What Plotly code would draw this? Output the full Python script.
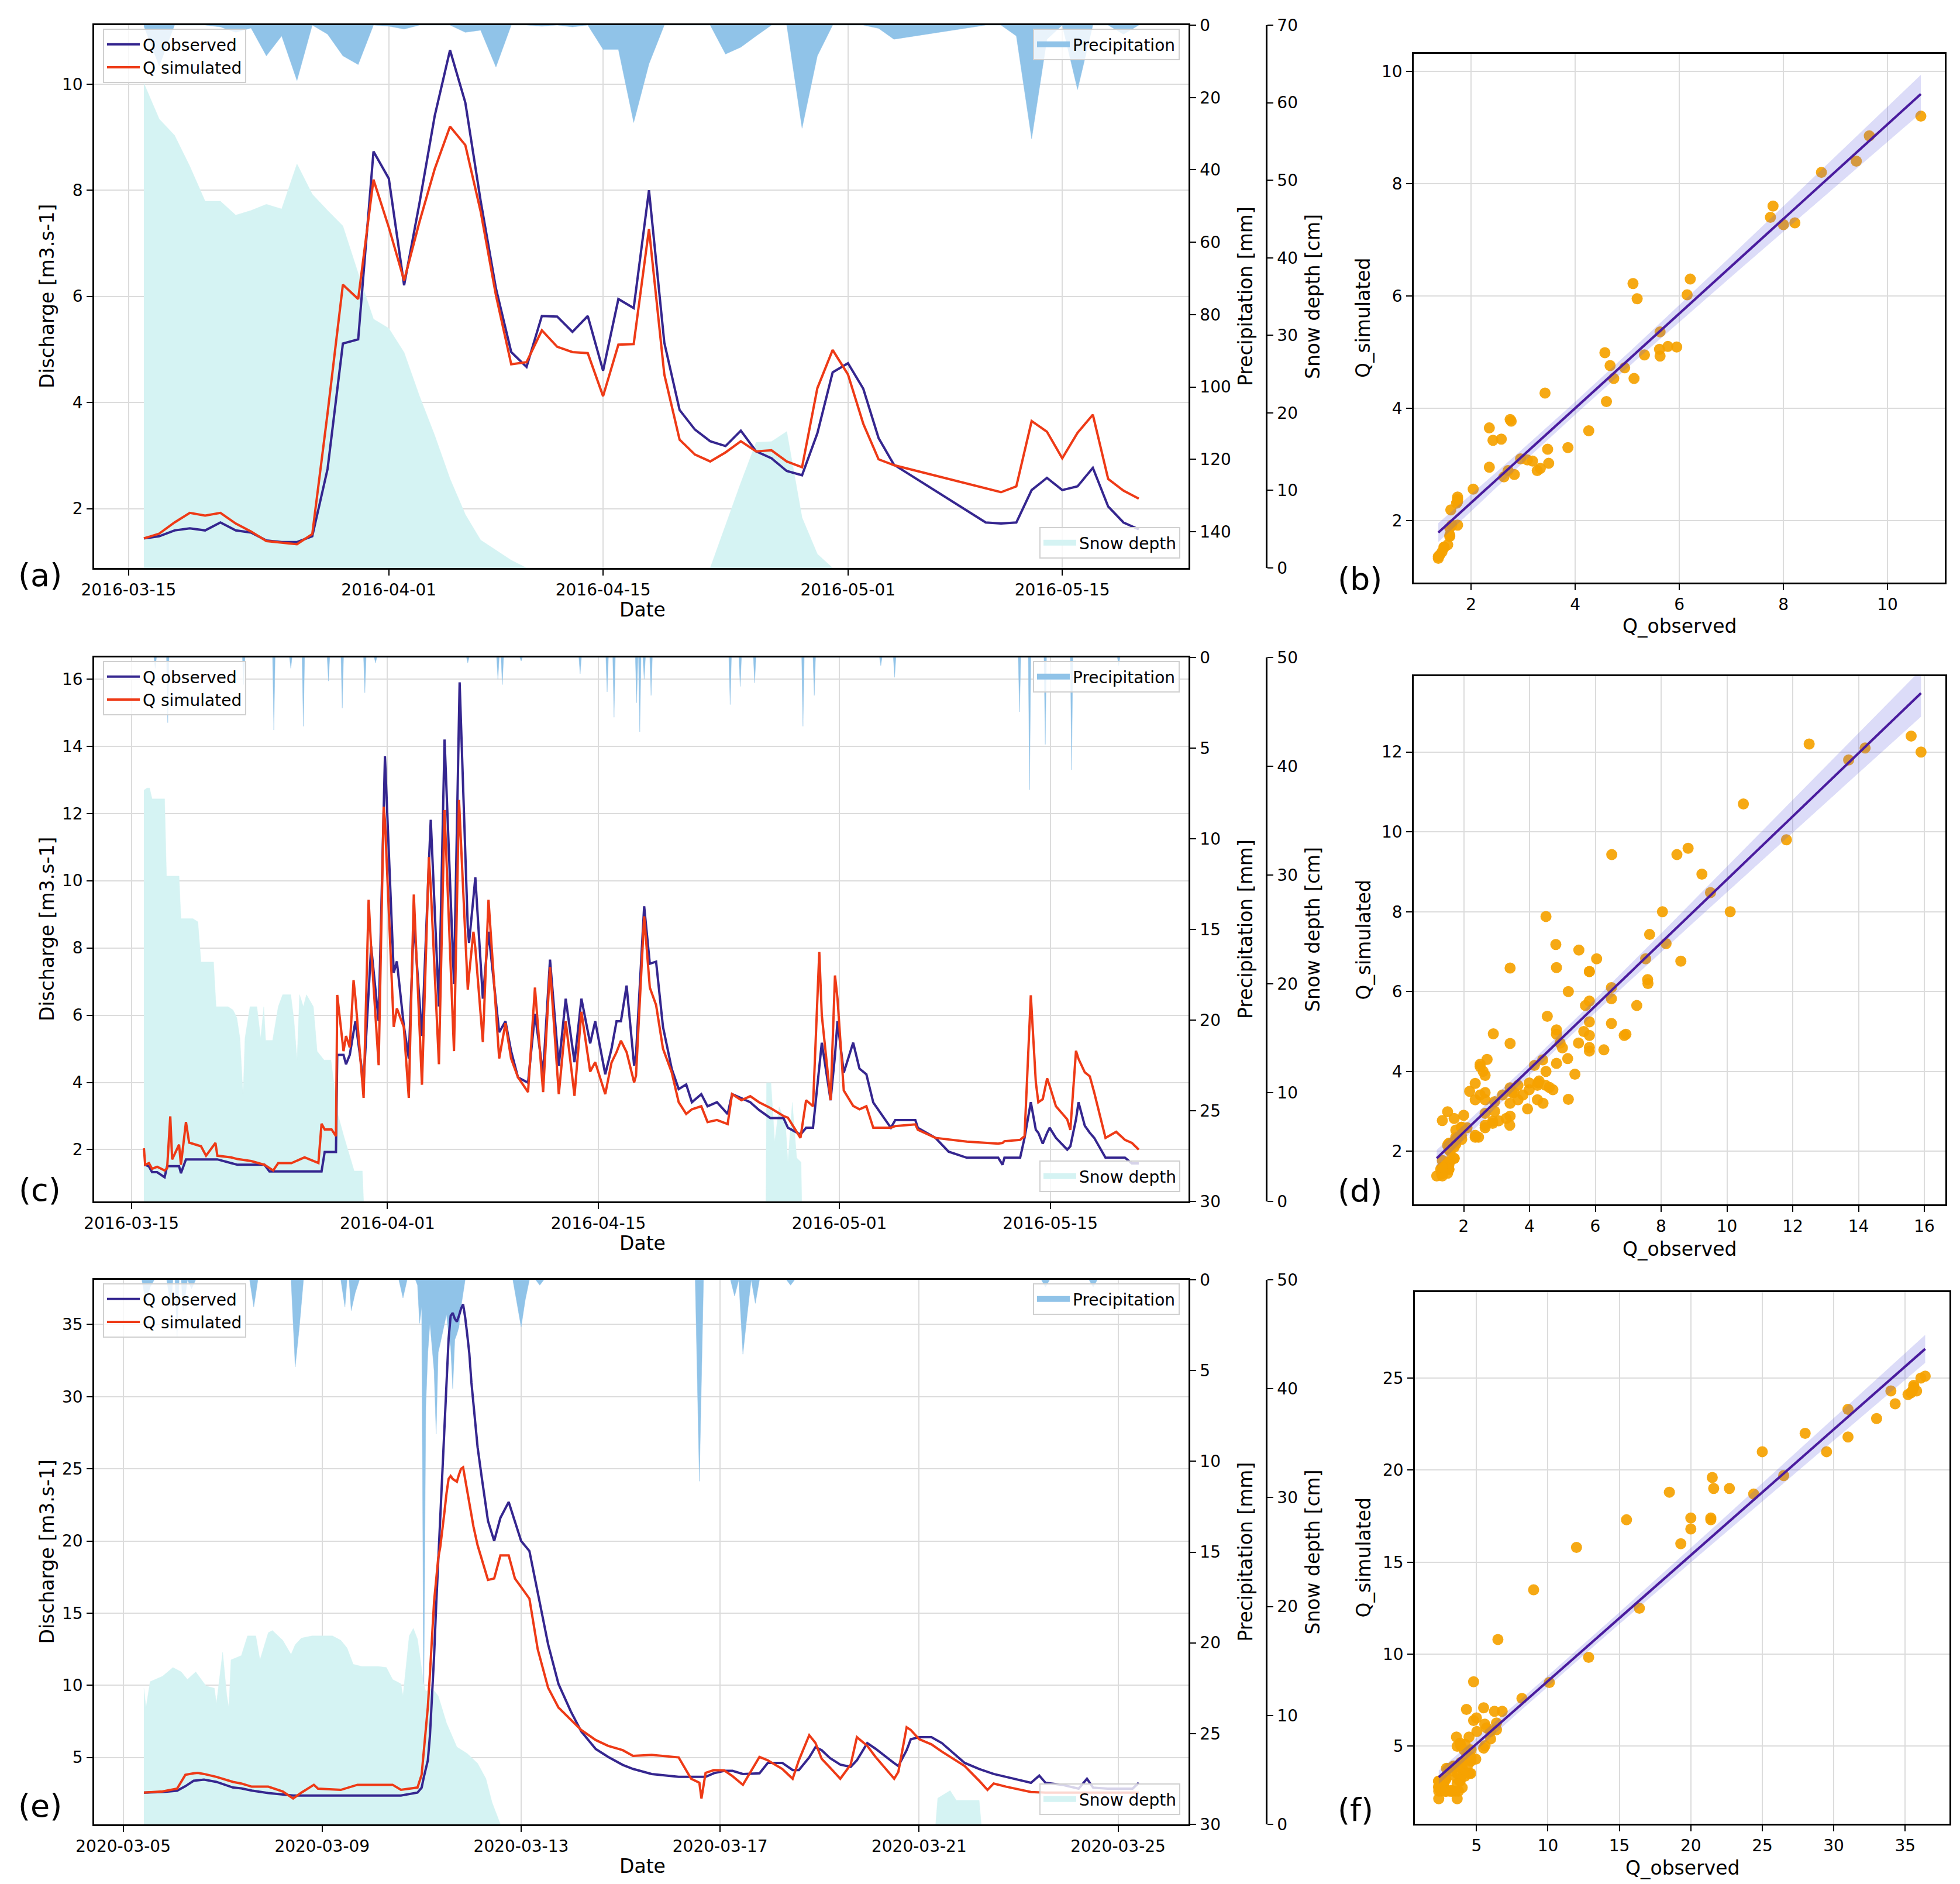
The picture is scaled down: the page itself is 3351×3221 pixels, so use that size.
import numpy as np
import pandas as pd
import plotly.graph_objects as go

W, H = 3351, 3221
FONT = "DejaVu Sans"
OBS_C = "#35268f"
SIM_C = "#ee3a16"
PREC_FILL = "#90c3e8"
SNOW_FILL = "#d5f3f3"
PT_C = "rgba(245,162,0,0.92)"
REG_C = "#4a1c9e"
BAND_C = "rgba(95,95,225,0.22)"
GRID = "#dcdcdc"

# ---------------- Panel (a): daily values, 2016 ----------------
a_dates = (["03-%02d" % d for d in range(16, 32)] + ["04-%02d" % d for d in range(1, 31)]
           + ["05-%02d" % d for d in range(1, 5)] + ["05-%02d" % d for d in range(10, 21)])
a_obs = [1.44, 1.48, 1.59, 1.63, 1.59, 1.74, 1.59, 1.55, 1.40, 1.37, 1.37, 1.48, 2.75, 5.11, 5.19, 8.73,
         8.22, 6.21, 7.75, 9.40, 10.64, 9.65, 7.80, 6.15, 4.95, 4.67, 5.63, 5.62, 5.33, 5.63, 4.60, 5.95,
         5.78, 8.00, 5.13, 3.86, 3.49, 3.27, 3.18, 3.47, 3.08, 2.95, 2.71, 2.63, 3.42, 4.57,
         4.74, 4.26, 3.33, 2.83, 1.74, 1.72, 1.74, 2.35, 2.58, 2.35, 2.42, 2.77, 2.04, 1.74, 1.61]
a_sim = [1.44, 1.53, 1.74, 1.92, 1.87, 1.92, 1.72, 1.57, 1.39, 1.36, 1.33, 1.52, 3.80, 6.22, 5.95, 8.20,
         7.30, 6.30, 7.40, 8.40, 9.20, 8.85, 7.60, 6.02, 4.72, 4.76, 5.36, 5.05, 4.95, 4.93, 4.12, 5.09,
         5.10, 7.27, 4.53, 3.30, 3.02, 2.89, 3.06, 3.27, 3.08, 3.10, 2.89, 2.78, 4.27, 4.99,
         4.53, 3.60, 2.93, 2.82, 2.38, 2.31, 2.42, 3.65, 3.45, 2.95, 3.43, 3.77, 2.56, 2.34, 2.19]
a_precip = [0.3, 11.3, 0, 0, 0, 0.5, 2.0, 0.8, 8.5, 3.0, 15.3, 0, 2.5, 8.5, 10.9, 0,
            0.3, 1.1, 0, 0, 0, 2.0, 1.4, 11.6, 0, 0, 0.3, 0, 0.5, 0, 6.7, 6.7, 26.9, 10.7, 0, 0, 0, 0,
            8.0, 6.1, 3.0, 0, 0, 28.5, 8.5, 0,
            0, 0, 0.9, 3.9, 0, 0, 3.0, 31.4, 3.9, 0, 17.8, 0, 0, 2.5, 0]
a_snow = [62.5, 57.9, 55.8, 51.8, 47.3, 47.3, 45.5, 46.1, 46.9, 46.3, 52.1, 48.2, 46.1, 44.1, 38.0, 32.1,
          30.9, 27.8, 22.2, 17.1, 11.5, 6.9, 3.6, 2.3, 1.0, 0, 0, 0, 0, 0, 0, 0, 0, 0, 0, 0, 0, 0,
          5.5, 11.0, 16.2, 16.3, 17.6, 6.5, 1.8, 0,
          0, 0, 0, 0, 0, 0, 0, 0, 0, 0, 0, 0, 0, 0, 0]

# ---------------- Panel (c): hourly values, 2016 ----------------
c_time = ["03-15 20", "03-15 22", "03-16 04", "03-16 09", "03-16 17", "03-17 05", "03-17 09", "03-17 14",
          "03-17 17", "03-18 04", "03-18 07", "03-18 15", "03-18 20", "03-19 15", "03-19 23", "03-20 14",
          "03-20 17", "03-21 15", "03-22 01", "03-22 23", "03-23 20", "03-24 04", "03-24 10", "03-24 18",
          "03-25 15", "03-26 12", "03-27 10", "03-27 15", "03-27 20", "03-28 07", "03-28 14", "03-28 16",
          "03-29 02", "03-29 06", "03-29 12", "03-29 18", "03-29 21", "03-30 10", "03-30 18", "03-30 22",
          "03-31 10", "03-31 18", "03-31 20", "04-01 10", "04-01 15", "04-02 02", "04-02 10", "04-02 18",
          "04-03 07", "04-03 18", "04-03 21", "04-04 10", "04-04 19", "04-05 10", "04-05 18", "04-05 19",
          "04-06 08", "04-06 10", "04-06 17", "04-06 20", "04-07 08", "04-07 17", "04-08 10", "04-08 20",
          "04-09 05", "04-09 16", "04-10 08", "04-10 19", "04-11 08", "04-11 19", "04-12 09", "04-12 20",
          "04-13 10", "04-13 21", "04-14 11", "04-14 19", "04-15 11", "04-15 21", "04-16 05", "04-16 12",
          "04-16 21", "04-17 09", "04-17 12", "04-18 01", "04-18 10", "04-18 20", "04-19 07", "04-19 21",
          "04-20 08", "04-20 20", "04-21 05", "04-21 20", "04-22 06", "04-22 21", "04-23 14", "04-23 21",
          "04-24 12", "04-25 02", "04-25 16", "04-26 10", "04-27 07", "04-27 14", "04-28 10", "04-28 19",
          "04-29 06", "04-29 16", "04-29 20", "04-30 10", "04-30 17", "04-30 21", "05-01 07", "05-01 22",
          "05-02 08", "05-02 19", "05-03 06", "05-04 10", "05-04 17", "05-06 01", "05-06 05", "05-07 09",
          "05-08 06", "05-09 11", "05-11 13", "05-11 20", "05-11 23", "05-13 00", "05-13 07", "05-13 17",
          "05-14 01", "05-14 05", "05-14 12", "05-14 19", "05-14 23", "05-15 09", "05-16 03", "05-16 08",
          "05-16 17", "05-16 21", "05-17 07", "05-17 15", "05-17 22", "05-18 16", "05-19 09", "05-19 23",
          "05-20 10", "05-20 21"]
c_obs = [1.55, 1.55, 1.50, 1.33, 1.33, 1.18, 1.51, 1.51, 1.51, 1.51, 1.30, 1.71, 1.71, 1.71, 1.71, 1.71,
         1.71, 1.60, 1.55, 1.55, 1.55, 1.35, 1.35, 1.35, 1.35, 1.35, 1.35, 1.35, 1.93, 1.93, 1.93, 4.82,
         4.82, 4.54, 4.82, 5.50, 5.82, 3.99, 6.50, 8.04, 5.82, 12.5, 13.7, 7.26, 7.60, 5.70, 4.71, 8.82,
         5.38, 10.5, 11.81, 6.26, 14.2, 6.93, 15.6, 15.9, 8.60, 8.15, 9.50, 10.1, 6.49, 8.48, 5.49, 5.82,
         4.93, 4.15, 3.99, 6.04, 4.26, 7.65, 4.49, 6.49, 4.60, 6.49, 5.16, 5.82, 4.24, 5.00, 5.82, 5.82,
         6.88, 4.50, 4.82, 9.24, 7.53, 7.59, 5.65, 4.40, 3.80, 3.94, 3.41, 3.65, 3.29, 3.41, 3.06, 3.65,
         3.53, 3.41, 3.18, 2.94, 2.94, 2.65, 2.45, 2.65, 2.65, 4.50, 5.18, 3.47, 4.80, 5.82, 4.29, 5.18,
         4.41, 4.24, 3.40, 2.65, 2.88, 2.88, 2.65, 2.35, 1.94, 1.76, 1.76, 1.55, 1.76, 1.76, 2.35, 3.41,
         2.59, 2.50, 2.18, 2.50, 2.65, 2.35, 2.00, 2.10, 2.90, 3.41, 2.71, 2.50, 2.35, 1.76, 1.76, 1.76,
         1.59, 1.59]
c_sim = [2.04, 1.55, 1.60, 1.43, 1.49, 1.38, 1.45, 2.99, 1.71, 2.15, 1.55, 2.82, 2.21, 2.10, 1.82, 2.20,
         1.82, 1.77, 1.72, 1.66, 1.55, 1.45, 1.38, 1.60, 1.60, 1.77, 1.60, 2.77, 2.60, 2.60, 2.40, 6.60,
         4.93, 5.38, 5.04, 7.04, 6.50, 3.54, 9.43, 8.00, 4.51, 12.2, 11.8, 5.65, 6.20, 5.65, 3.54, 9.59,
         3.93, 10.7, 9.80, 4.54, 12.1, 4.93, 12.4, 12.0, 6.76, 7.20, 8.48, 8.00, 5.20, 9.43, 4.71, 5.76,
         4.71, 4.15, 3.71, 6.82, 3.71, 7.43, 3.65, 5.82, 3.60, 6.10, 4.32, 4.60, 3.65, 4.59, 4.90, 5.24,
         4.90, 4.00, 4.20, 8.94, 6.82, 6.30, 5.00, 4.29, 3.41, 3.06, 3.20, 3.29, 2.82, 2.88, 2.76, 3.65,
         3.47, 3.59, 3.41, 3.24, 3.00, 2.95, 2.35, 3.47, 3.29, 7.88, 6.00, 3.47, 7.18, 6.50, 3.76, 3.30,
         3.20, 3.29, 2.65, 2.65, 2.70, 2.75, 2.59, 2.35, 2.30, 2.24, 2.18, 2.20, 2.25, 2.29, 2.40, 6.59,
         4.00, 3.41, 3.50, 4.12, 3.90, 3.29, 2.90, 2.59, 4.94, 4.70, 4.30, 4.18, 3.70, 2.35, 2.53, 2.29,
         2.20, 2.00]
c_prec_t = ["03-16 14", "03-17 10", "03-22 11", "03-24 11", "03-25 14", "03-26 10", "03-28 02", "03-29 00",
            "03-30 12", "03-31 05", "04-06 08", "04-08 08", "04-08 15", "04-09 21", "04-13 19", "04-15 14",
            "04-16 01", "04-17 13", "04-17 18", "04-18 01", "04-18 12", "04-23 18", "04-24 10", "04-25 09",
            "04-28 14", "04-29 08", "05-03 18", "05-04 16", "05-12 23", "05-13 15", "05-14 16", "05-16 10",
            "05-19 13"]
c_prec_v = [0.6, 3.6, 1.5, 4.0, 0.6, 3.8, 1.3, 2.8, 1.95, 0.3, 0.3, 1.2, 1.5, 0.2, 0.9, 1.9, 3.3, 2.5, 4.1,
            1.2, 2.1, 2.6, 1.6, 1.4, 3.8, 2.1, 0.45, 1.1, 3.0, 7.3, 4.8, 6.2, 0.45]
c_snow_t = ["03-15 20", "03-16 01", "03-16 05", "03-16 09", "03-17 05", "03-17 08", "03-18 04", "03-18 07",
            "03-19 02", "03-19 10", "03-19 15", "03-20 11", "03-20 15", "03-21 10", "03-21 18", "03-22 00",
            "03-22 05", "03-22 10", "03-22 13", "03-22 21", "03-23 08", "03-23 14", "03-23 19", "03-23 22",
            "03-24 09", "03-24 18", "03-25 01", "03-25 14", "03-25 19", "03-26 00", "03-26 04", "03-26 10",
            "03-26 15", "03-27 02", "03-27 08", "03-27 19", "03-28 06", "03-28 17", "03-29 03", "03-29 19",
            "03-30 08", "03-30 10", "04-26 03", "04-26 04", "04-26 11", "04-26 17", "04-27 00", "04-27 10",
            "04-27 14", "04-27 21", "04-28 04", "04-28 11", "04-28 12", "05-20 21"]
c_snow_v = [37.8, 38.0, 38.0, 37.0, 37.0, 29.9, 29.9, 26.0, 26.0, 25.7, 22.0, 22.0, 17.9, 17.9, 17.6, 16.9,
            15.0, 9.7, 15.0, 17.9, 17.9, 15.0, 17.9, 14.8, 14.8, 17.9, 19.0, 19.0, 16.7, 13.0, 19.0, 17.9,
            19.0, 17.9, 13.8, 13.0, 13.0, 8.0, 5.9, 2.8, 2.8, 0, 0, 10.9, 10.9, 5.5, 8.7, 7.3, 3.6, 9.1,
            4.0, 3.6, 0, 0]

# ---------------- Panel (e): hourly values, 2020 ----------------
e_time = ["03-05 10", "03-05 19", "03-06 02", "03-06 06", "03-06 10", "03-06 12", "03-06 15", "03-06 21",
          "03-07 05", "03-07 09", "03-07 14", "03-07 22", "03-08 05", "03-08 10", "03-08 14", "03-08 20",
          "03-08 22", "03-09 09", "03-09 17", "03-10 10", "03-10 14", "03-10 22", "03-11 00", "03-11 01",
          "03-11 02", "03-11 03", "03-11 04", "03-11 05", "03-11 06", "03-11 07", "03-11 08", "03-11 09",
          "03-11 10", "03-11 11", "03-11 12", "03-11 13", "03-11 14", "03-11 15", "03-11 16", "03-11 17",
          "03-11 18", "03-11 19", "03-11 20", "03-11 21", "03-11 22", "03-11 23", "03-12 00", "03-12 01",
          "03-12 03", "03-12 05", "03-12 08", "03-12 11", "03-12 14", "03-12 18", "03-12 21", "03-13 00",
          "03-13 04", "03-13 08", "03-13 13", "03-13 18", "03-14 00", "03-14 05", "03-14 12", "03-14 18",
          "03-15 01", "03-15 06", "03-15 15", "03-16 04", "03-16 10", "03-16 14", "03-16 15", "03-16 17",
          "03-16 21", "03-17 02", "03-17 06", "03-17 11", "03-17 19", "03-17 23", "03-18 06", "03-18 11",
          "03-18 14", "03-18 19", "03-18 22", "03-19 01", "03-19 05", "03-19 10", "03-19 15", "03-19 18",
          "03-19 23", "03-20 03", "03-20 12", "03-20 14", "03-20 18", "03-20 20", "03-21 00", "03-21 06",
          "03-21 11", "03-21 22", "03-22 05", "03-22 09", "03-22 12", "03-22 18", "03-23 06", "03-23 10",
          "03-23 13", "03-23 21", "03-24 05", "03-24 09", "03-24 12", "03-24 19", "03-25 07", "03-25 10"]
e_obs = [2.56, 2.60, 2.69, 3.00, 3.38, 3.40, 3.46, 3.30, 2.91, 2.85, 2.70, 2.53, 2.45, 2.36, 2.36, 2.36,
         2.36, 2.36, 2.36, 2.36, 2.36, 2.56, 2.90, 3.60, 4.30, 4.80, 6.50, 9.00, 12.0, 15.5, 18.5, 21.5,
         25.0, 28.0, 31.0, 34.0, 35.6, 35.8, 35.4, 35.2, 35.6, 36.1, 36.4, 35.5, 34.3, 33.0, 31.0, 29.5,
         26.5, 24.4, 21.4, 20.0, 21.6, 22.7, 21.4, 20.0, 19.3, 16.4, 12.85, 10.1, 8.18, 6.80, 5.58, 5.03,
         4.48, 4.20, 3.85, 3.65, 3.65, 3.65, 3.65, 3.65, 3.90, 4.07, 4.07, 3.85, 3.90, 4.62, 4.62, 4.12,
         4.12, 5.00, 5.71, 5.50, 4.95, 4.50, 4.34, 4.80, 5.99, 5.60, 4.60, 4.40, 5.50, 6.26, 6.40, 6.40,
         5.99, 4.62, 4.20, 4.00, 3.85, 3.65, 3.24, 3.74, 3.24, 3.10, 2.83, 3.52, 2.90, 2.83, 2.83, 3.24]
e_sim = [2.56, 2.64, 2.83, 3.79, 3.90, 3.93, 3.85, 3.65, 3.30, 3.19, 2.97, 2.97, 2.64, 2.15, 2.56, 3.10,
         2.83, 2.75, 3.10, 3.10, 2.75, 2.91, 3.80, 5.50, 7.00, 8.50, 10.8, 13.5, 15.8, 17.3, 18.8, 19.6,
         21.0, 22.0, 23.3, 24.3, 24.5, 24.3, 24.2, 24.1, 24.6, 25.0, 25.1, 24.3, 23.6, 22.8, 21.8, 21.0,
         19.7, 18.7, 17.3, 17.4, 19.0, 19.0, 17.4, 16.8, 16.0, 12.5, 9.83, 8.46, 7.60, 6.90, 6.20, 5.80,
         5.50, 5.10, 5.17, 5.00, 3.52, 3.24, 2.15, 3.93, 4.12, 4.10, 3.70, 3.10, 5.03, 4.80, 4.20, 3.52,
         4.80, 6.54, 6.00, 4.90, 4.30, 3.52, 4.50, 6.40, 5.80, 5.03, 3.52, 4.00, 7.09, 6.90, 6.26, 5.90,
         5.40, 4.40, 3.38, 2.75, 3.19, 2.97, 2.60, 2.56, 2.56, 2.56, 2.56, 2.56, 2.56, 2.56, 2.56, 2.56]
e_prec_t = ["03-05 11", "03-05 13", "03-05 23", "03-06 02", "03-06 05", "03-06 09", "03-07 15", "03-08 11",
            "03-08 13", "03-09 11", "03-09 14", "03-09 16", "03-10 15",
            "03-10 22", "03-10 23", "03-11 00", "03-11 01", "03-11 02", "03-11 03", "03-11 04", "03-11 05",
            "03-11 06", "03-11 07", "03-11 08", "03-11 09", "03-11 10", "03-11 11", "03-11 12", "03-11 13",
            "03-11 14", "03-11 15", "03-11 16", "03-11 17", "03-11 18", "03-11 19", "03-11 20",
            "03-12 22", "03-13 00", "03-13 02", "03-13 09", "03-16 14", "03-17 07", "03-17 11", "03-17 13",
            "03-17 17", "03-18 10", "03-23 13", "03-24 12"]
e_prec_v = [1.3, 0.4, 1.5, 3.15, 1.7, 0.5, 1.5, 4.8, 2.6, 1.5, 1.7, 0.7, 1.0,
            0.3, 2.4, 1.5, 24.0, 7.0, 4.0, 2.4, 3.7, 5.0, 8.5, 4.0, 3.5, 3.0, 2.5, 1.9, 3.0,
            3.7, 6.0, 3.3, 3.0, 2.6, 1.5, 0.7,
            1.3, 2.6, 1.1, 0.3, 11.1, 0.9, 4.1, 2.0, 1.3, 0.3, 0.4, 0.4]
e_snow_t = ["03-05 10", "03-05 11", "03-05 13", "03-05 19", "03-06 00", "03-06 04", "03-06 07", "03-06 11",
            "03-06 16", "03-06 20", "03-06 21", "03-07 00", "03-07 02", "03-07 03", "03-07 04", "03-07 09",
            "03-07 12", "03-07 16", "03-07 18", "03-07 22", "03-08 00", "03-08 05", "03-08 09", "03-08 11",
            "03-08 14", "03-08 19", "03-09 05", "03-09 09", "03-09 12", "03-09 15", "03-09 19", "03-10 03",
            "03-10 07", "03-10 10", "03-10 14", "03-10 15", "03-10 18", "03-10 20", "03-10 22", "03-11 01",
            "03-11 02", "03-11 05", "03-11 08", "03-11 12", "03-11 17", "03-11 22", "03-12 03", "03-12 07",
            "03-12 10", "03-12 14", "03-21 08", "03-21 09", "03-21 15", "03-21 18", "03-22 05", "03-22 06",
            "03-25 10"]
e_snow_v = [12.5, 10.7, 13.1, 13.6, 14.4, 14.0, 13.3, 14.0, 12.7, 12.5, 11.1, 15.8, 11.8, 10.7, 15.1, 15.5,
            17.3, 17.3, 15.1, 17.6, 17.8, 16.9, 15.6, 16.5, 17.1, 17.3, 17.3, 16.9, 16.2, 14.7, 14.5, 14.5,
            14.4, 13.3, 12.9, 11.8, 17.3, 18.0, 17.0, 12.9, 12.2, 12.5, 11.8, 9.3, 7.1, 6.5, 5.6, 4.2,
            2.0, 0, 0, 2.4, 3.1, 2.2, 2.2, 0, 0]

# ---------------- tick labels ----------------
ticks_2016 = ["2016-03-15", "2016-04-01", "2016-04-15", "2016-05-01", "2016-05-15"]
ticks_2020 = ["2020-03-05", "2020-03-09", "2020-03-13", "2020-03-17", "2020-03-21", "2020-03-25"]


def px(x):
    return x / W


def py(y):
    return 1 - y / H


def to_ts(year, arr):
    return pd.to_datetime([f"{year}-{s}:00" if " " in s else f"{year}-{s}" for s in arr])


def spike_series(times, vals, pad_h=2):
    d = {}
    for t in times:
        for k in (-pad_h, pad_h):
            d.setdefault(t + pd.Timedelta(hours=k), 0.0)
    for t, v in zip(times, vals):
        d[t] = v
    keys = sorted(d)
    return keys, [d[k] for k in keys]


def pad_range(t):
    t0, t1 = t.min(), t.max()
    p = (t1 - t0) * 0.05
    return [str(t0 - p), str(t1 + p)]


def ak(prefix, n):
    return prefix if n == 1 else f"{prefix}{n}"


TICKFONT = dict(family=FONT, size=28, color="black")


def base_axis(**kw):
    d = dict(showline=True, linecolor="black", linewidth=2.5, ticks="outside", ticklen=10,
             tickwidth=2.2, tickcolor="black", tickfont=TICKFONT, zeroline=False,
             ticklabelstandoff=1, automargin=False)
    d.update(kw)
    return d


fig = go.Figure()
layout = {}
annotations = []


def ann(text, x, y, size=33, angle=0):
    annotations.append(dict(text=text, x=px(x), y=py(y), xref="paper", yref="paper", showarrow=False,
                            textangle=angle, xanchor="center", yanchor="middle",
                            font=dict(family=FONT, size=size, color="black")))


def legend_cfg(x, y, xa, ya):
    return dict(x=px(x), y=py(y), xanchor=xa, yanchor=ya, bgcolor="rgba(255,255,255,0.8)",
                bordercolor="#d0d0d0", borderwidth=2, font=dict(family=FONT, size=28, color="black"),
                itemwidth=56, tracegroupgap=6, traceorder="normal")


panels = [
    dict(year=2016, t=a_dates, obs=a_obs, sim=a_sim, pt=a_dates, pv=a_precip, spikes=False,
         st=a_dates, sv=a_snow, xn=1, yd=1, yp=2, ys=3, yl=4, top=35, bottom=963, drange=[0.883, 11.11],
         dticks=[2, 4, 6, 8, 10], prange=[150, 0], pticks=list(range(0, 141, 20)), srange=[0, 70],
         sticks=list(range(0, 71, 10)), xticks=ticks_2016, legs=("legend", "legend2", "legend3"),
         label="(a)", label_y=975),
    dict(year=2016, t=c_time, obs=c_obs, sim=c_sim, pt=c_prec_t, pv=c_prec_v, spikes=True,
         st=c_snow_t, sv=c_snow_v, xn=2, yd=5, yp=6, ys=7, yl=8, top=1116, bottom=2046, drange=[0.46, 16.64],
         dticks=list(range(2, 17, 2)), prange=[30, 0], pticks=list(range(0, 31, 5)), srange=[0, 50],
         sticks=list(range(0, 51, 10)), xticks=ticks_2016, legs=("legend4", "legend5", "legend6"),
         label="(c)", label_y=2026),
    dict(year=2020, t=e_time, obs=e_obs, sim=e_sim, pt=e_prec_t, pv=e_prec_v, spikes=True,
         st=e_snow_t, sv=e_snow_v, xn=3, yd=9, yp=10, ys=11, yl=12, top=2180, bottom=3111, drange=[0.36, 38.1],
         dticks=list(range(5, 36, 5)), prange=[30, 0], pticks=list(range(0, 31, 5)), srange=[0, 50],
         sticks=list(range(0, 51, 10)), xticks=ticks_2020, legs=("legend7", "legend8", "legend9"),
         label="(e)", label_y=3079),
]

X_DOM = [px(153), px(2024)]
SNOW_POS = px(2157)

for pi, p in enumerate(panels):
    t = to_ts(p["year"], p["t"])
    xk = ak("x", p["xn"])
    yd, yp, ys, yl = ak("y", p["yd"]), ak("y", p["yp"]), ak("y", p["ys"]), ak("y", p["yl"])
    # invisible copy on the base discharge axis (registers the main subplot)
    fig.add_trace(go.Scatter(x=t, y=p["obs"], mode="lines", line=dict(width=0, color="rgba(0,0,0,0)"),
                             opacity=0, showlegend=False, hoverinfo="skip", xaxis=xk, yaxis=yd))
    # precipitation (reversed right axis)
    pt = to_ts(p["year"], p["pt"])
    if p["spikes"]:
        pt, pv = spike_series(list(pt), p["pv"])
    else:
        pv = p["pv"]
    fig.add_trace(go.Scatter(x=pt, y=pv, mode="lines", name="Precipitation", fill="tozeroy",
                             fillcolor=PREC_FILL, line=dict(color=PREC_FILL, width=0.5), showlegend=False,
                             xaxis=xk, yaxis=yp))
    fig.add_trace(go.Scatter(x=[None], y=[None], mode="lines", name="Precipitation",
                             line=dict(color=PREC_FILL, width=20), xaxis=xk, yaxis=yp, legend=p["legs"][1]))
    # snow depth (offset right axis)
    st = to_ts(p["year"], p["st"])
    fig.add_trace(go.Scatter(x=st, y=p["sv"], mode="lines", name="Snow depth", fill="tozeroy",
                             fillcolor=SNOW_FILL, line=dict(color=SNOW_FILL, width=0.5), showlegend=False,
                             xaxis=xk, yaxis=ys))
    fig.add_trace(go.Scatter(x=[None], y=[None], mode="lines", name="Snow depth",
                             line=dict(color=SNOW_FILL, width=20), xaxis=xk, yaxis=ys, legend=p["legs"][2]))
    # discharge lines, on a hidden copy of the discharge axis drawn on top
    fig.add_trace(go.Scatter(x=t, y=p["obs"], mode="lines", name="Q observed", line=dict(color=OBS_C, width=4),
                             xaxis=xk, yaxis=yl, legend=p["legs"][0], legendgroup=f"o{pi}"))
    fig.add_trace(go.Scatter(x=t, y=p["sim"], mode="lines", name="Q simulated", line=dict(color=SIM_C, width=4),
                             xaxis=xk, yaxis=yl, legend=p["legs"][0], legendgroup=f"s{pi}"))

    ydom = [py(p["bottom"]), py(p["top"])]
    layout[ak("xaxis", p["xn"])] = base_axis(domain=X_DOM, anchor=yd, type="date", range=pad_range(t),
                                            tickvals=p["xticks"], tickformat="%Y-%m-%d", showgrid=True,
                                            gridcolor=GRID, gridwidth=2, mirror=True)
    layout[ak("yaxis", p["yd"])] = base_axis(domain=ydom, anchor=xk, range=p["drange"], tickvals=p["dticks"],
                                            showgrid=True, gridcolor=GRID, gridwidth=2, mirror=True)
    layout[ak("yaxis", p["yp"])] = base_axis(overlaying=yd, side="right", anchor=xk, range=p["prange"],
                                            tickvals=p["pticks"], showgrid=False)
    layout[ak("yaxis", p["ys"])] = base_axis(overlaying=yd, side="right", anchor="free", position=SNOW_POS,
                                            range=p["srange"], tickvals=p["sticks"], showgrid=False)
    layout[ak("yaxis", p["yl"])] = dict(overlaying=yd, anchor=xk, range=p["drange"], visible=False,
                                        showgrid=False, zeroline=False, automargin=False)
    layout[p["legs"][0]] = legend_cfg(168, p["top"] + 6, "left", "top")
    layout[p["legs"][1]] = legend_cfg(2009, p["top"] + 6, "right", "top")
    layout[p["legs"][2]] = legend_cfg(2010, p["bottom"] - 16, "right", "bottom")

    mid = (p["top"] + p["bottom"]) / 2
    ann("Discharge [m3.s-1]", 72, mid, angle=-90)
    ann("Precipitation [mm]", 2121, mid, angle=-90)
    ann("Snow depth [cm]", 2236, mid, angle=-90)
    ann("Date", 1090, p["bottom"] + 71)
    ann(p["label"], 60, p["label_y"], size=54)


# ---------------- scatter panels ----------------
def fit_band(x, y):
    x = np.asarray(x, float)
    y = np.asarray(y, float)
    b, a = np.polyfit(x, y, 1)
    xs = np.linspace(x.min(), x.max(), 100)
    yh = a + b * xs
    n = len(x)
    s = np.sqrt(np.sum((y - (a + b * x)) ** 2) / (n - 2))
    sxx = np.sum((x - x.mean()) ** 2)
    se = s * np.sqrt(1.0 / n + (xs - x.mean()) ** 2 / sxx)
    return xs, yh, yh - 1.97 * se, yh + 1.97 * se


scatters = [
    dict(obs=a_obs, sim=a_sim, xn=4, yn=13, xd=[2409, 3317], yd=[84, 988], xr=[0.897, 11.1], yr=[0.897, 10.31],
         xt=[2, 4, 6, 8, 10], yt=[2, 4, 6, 8, 10], label="(b)", lab=(2317, 982), xty=1062),
    dict(obs=c_obs, sim=c_sim, xn=5, yn=14, xd=[2409, 3318], yd=[1148, 2051], xr=[0.48, 16.64], yr=[0.67, 13.9],
         xt=list(range(2, 17, 2)), yt=list(range(2, 13, 2)), label="(d)", lab=(2317, 2029), xty=2127),
    dict(obs=e_obs, sim=e_sim, xn=6, yn=15, xd=[2411, 3325], yd=[2201, 3110], xr=[0.69, 38.1], yr=[0.79, 29.67],
         xt=list(range(5, 36, 5)), yt=list(range(5, 26, 5)), label="(f)", lab=(2309, 3086), xty=3185),
]

for s in scatters:
    xk, yk = ak("x", s["xn"]), ak("y", s["yn"])
    fig.add_trace(go.Scatter(x=s["obs"], y=s["sim"], mode="markers", showlegend=False,
                             marker=dict(size=19, color=PT_C, line=dict(width=0)), xaxis=xk, yaxis=yk))
    xs, yh, lo, hi = fit_band(s["obs"], s["sim"])
    fig.add_trace(go.Scatter(x=np.concatenate([xs, xs[::-1]]), y=np.concatenate([lo, hi[::-1]]),
                             fill="toself", fillcolor=BAND_C, line=dict(width=0), mode="lines",
                             showlegend=False, xaxis=xk, yaxis=yk))
    fig.add_trace(go.Scatter(x=xs, y=yh, mode="lines", line=dict(color=REG_C, width=4.2), showlegend=False,
                             xaxis=xk, yaxis=yk))
    layout[ak("xaxis", s["xn"])] = base_axis(domain=[px(s["xd"][0]), px(s["xd"][1])], anchor=yk, range=s["xr"],
                                            tickvals=s["xt"], showgrid=True, gridcolor=GRID, gridwidth=2,
                                            mirror=True)
    layout[ak("yaxis", s["yn"])] = base_axis(domain=[py(s["yd"][1]), py(s["yd"][0])], anchor=xk, range=s["yr"],
                                            tickvals=s["yt"], showgrid=True, gridcolor=GRID, gridwidth=2,
                                            mirror=True)
    ann("Q_simulated", 2323, (s["yd"][0] + s["yd"][1]) / 2, angle=-90)
    ann("Q_observed", (s["xd"][0] + s["xd"][1]) / 2, s["xty"])
    ann(s["label"], s["lab"][0], s["lab"][1], size=54)

fig.update_layout(width=W, height=H, margin=dict(l=0, r=0, t=0, b=0, pad=0, autoexpand=False),
                  paper_bgcolor="white", plot_bgcolor="white", hovermode=False, annotations=annotations,
                  font=dict(family=FONT, size=28, color="black"), **layout)
fig.write_html("out.html")
